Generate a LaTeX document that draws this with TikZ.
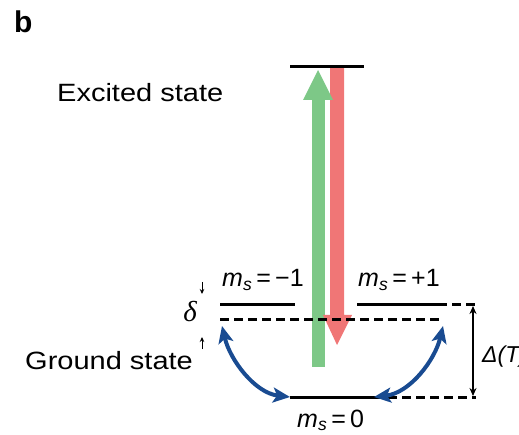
\documentclass[tikz,border=0pt]{standalone}
\usepackage{fontspec}
\setmainfont{Liberation Sans}
\newfontfamily\grserif{Liberation Serif}
\usetikzlibrary{arrows.meta}
\definecolor{exgreen}{RGB}{125,200,135}
\definecolor{emred}{RGB}{240,118,118}
\definecolor{mwblue}{RGB}{25,75,145}
\newcommand\msl[1]{{\itshape m}\textsubscript{\itshape s}\,=\,#1}
\newcommand\wide[1]{\scalebox{1.16}[1]{#1}}
\begin{document}
\begin{tikzpicture}[x=1pt,y=-1pt,
  lvl/.style={line width=3pt},
  dlvl/.style={line width=3pt, dash pattern=on 9pt off 5pt},
  lab/.style={inner sep=0pt, font=\fontsize{25}{30}\selectfont},
  mwarrow/.style={mwblue, line width=4pt,
    {Stealth[length=17pt,width=15pt,inset=4pt]}-{Stealth[length=17pt,width=15pt,inset=4pt]}},
  gaparrow/.style={line width=1.3pt,
    {Stealth[length=8pt,width=7pt]}-{Stealth[length=8pt,width=7pt]}},
  smallarrow/.style={line width=0.9pt, -{Stealth[length=5pt,width=4.5pt]}}]
\useasboundingbox (0,0) rectangle (519,435);
% level coordinates
\coordinate (exL) at (290,67);  \coordinate (exR) at (364,67);
\coordinate (m1L) at (220,305); \coordinate (m1R) at (295,305);
\coordinate (p1L) at (357,305); \coordinate (p1R) at (438,305);
\coordinate (p1D) at (476,305);
\coordinate (dL) at (220,320);  \coordinate (dR) at (443,320);
\coordinate (zL) at (290,397);  \coordinate (zR) at (374,397);
\coordinate (zD) at (476,397);
\coordinate (aL) at (222,326);  \coordinate (aR) at (443,326);
\coordinate (gT) at (473,306);  \coordinate (gB) at (473,396);
\coordinate (sdA) at (202,282); \coordinate (sdB) at (202,294);
\coordinate (suA) at (202,349); \coordinate (suB) at (202,337);
% fat optical arrows
\fill[exgreen] (312,367) -- (312,99) -- (325,99) -- (325,367) -- cycle;
\fill[emred] (330,67) -- (344,67) -- (344,315) -- (352,315) -- (337,345) -- (323,315) -- (330,315) -- cycle;
\fill[exgreen] (303,100) -- (318,70) -- (333,100) -- cycle;
% levels
\draw[lvl] (exL) -- (exR);
\draw[lvl] (m1L) -- (m1R);
\draw[lvl] (p1L) -- (p1R);
\draw[dlvl] (p1R) -- (p1D);
\draw[dlvl] (dL) -- (dR);
\draw[lvl] (zL) -- (zR);
\draw[dlvl] (zR) -- (zD);
% microwave transitions
\draw[mwarrow] (aL) .. controls (230,360) and (255,393) .. (zL);
\draw[mwarrow] (aR) .. controls (435,360) and (410,393) .. (zR);
% gap arrows
\draw[gaparrow] (gT) -- (gB);
\draw[smallarrow] (sdA) -- (sdB);
\draw[smallarrow] (suA) -- (suB);
% labels
\node[lab, anchor=base west, font=\fontsize{30}{32}\selectfont\bfseries] (tb) at (14,33) {b};
\node[lab, anchor=base west] (tex) at (57,102) {\wide{Excited state}};
\node[lab, anchor=base west] (tgr) at (25,369) {\wide{Ground state}};
\node[lab, anchor=base west] (tm1) at (222,287) {\msl{−1}};
\node[lab, anchor=base west] (tp1) at (358,287) {\msl{+1}};
\node[lab, anchor=base west] (tz) at (297,427) {\msl{0}};
\node[lab, anchor=base, font=\fontsize{29}{30}\selectfont\grserif\itshape] (tdel) at (190,322) {δ};
\node[lab, anchor=base west, font=\fontsize{23}{30}\selectfont\itshape] (tD) at (482,362) {Δ(T)};
\end{tikzpicture}
\end{document}
